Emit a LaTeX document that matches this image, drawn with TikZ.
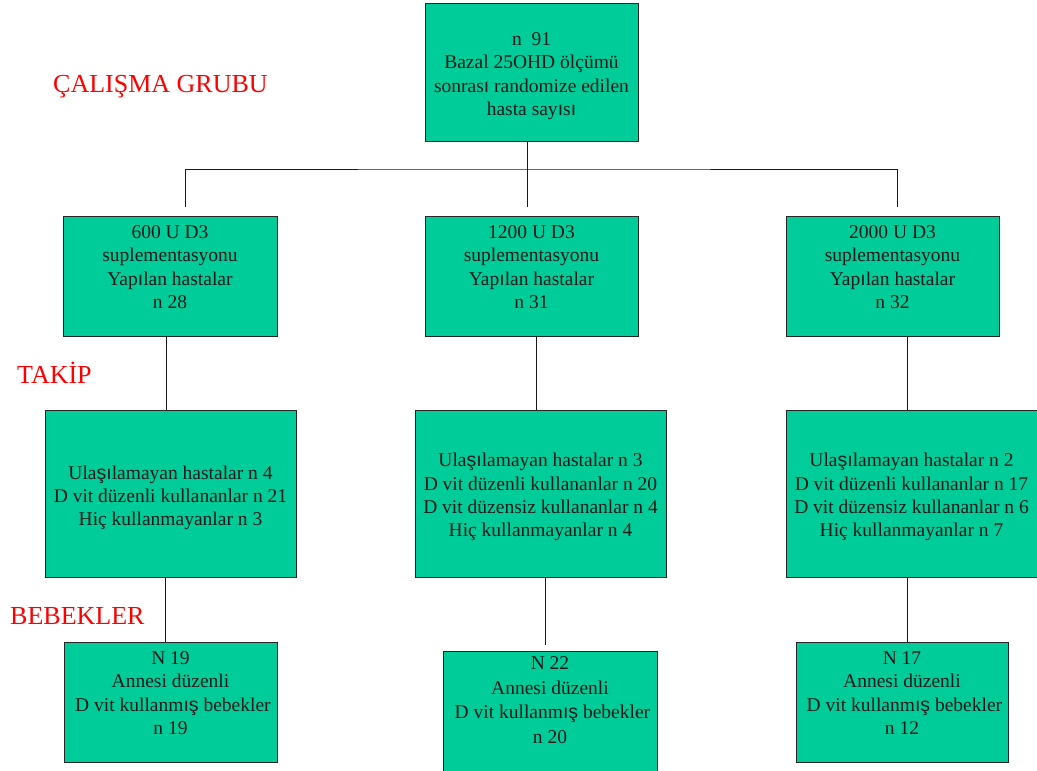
\documentclass[tikz,border=0pt]{standalone}
\usepackage{fontspec}
\setmainfont{Liberation Serif}
\newfontfamily\fbfont{Liberation Sans}
\newcommand{\fbk}[1]{{\fbfont #1}}
\definecolor{boxgreen}{RGB}{0,204,153}
\begin{document}
\begin{tikzpicture}[x=1pt,y=-1pt,
  box/.style={draw=black!85, fill=boxgreen, line width=1pt, inner sep=0pt, rectangle},
  txt/.style={align=center, font=\fontsize{19.5}{23.3}\selectfont, inner sep=0pt, text=black!90},
  lbl/.style={text=red, font=\fontsize{26}{30}\selectfont, anchor=base west, inner sep=0pt},
  conn/.style={line width=1pt, draw=black!90}]
\useasboundingbox (0,0) rectangle (1037,771);

% boxes
\node[box, minimum width=213, minimum height=138] (b1) at (531.5,72) {};
\node[box, minimum width=214, minimum height=120] (b2a) at (170,276) {};
\node[box, minimum width=213, minimum height=120] (b2b) at (531.5,276) {};
\node[box, minimum width=213, minimum height=120] (b2c) at (892.5,276) {};
\node[box, minimum width=251, minimum height=167] (b3a) at (170.5,493.5) {};
\node[box, minimum width=251, minimum height=167] (b3b) at (540.5,493.5) {};
\node[box, minimum width=251, minimum height=167] (b3c) at (911.5,493.5) {};
\node[box, minimum width=213, minimum height=120] (b4a) at (170.5,702) {};
\node[box, minimum width=214, minimum height=139] (b4b) at (550,720.5) {};
\node[box, minimum width=212, minimum height=120] (b4c) at (902,702) {};

% texts
\node[txt] (t1) at (531.5,76) {n\ \ 91\\Bazal 25OHD ölçümü\\sonras\fbk{ı} randomize edilen\\hasta say\fbk{ı}s\fbk{ı}};
\node[txt] (t2a) at (170,267) {600 U D3\\suplementasyonu\\Yap\fbk{ı}lan hastalar\\n 28};
\node[txt] (t2b) at (531.5,267) {1200 U D3\\suplementasyonu\\Yap\fbk{ı}lan hastalar\\n 31};
\node[txt] (t2c) at (892.5,267) {2000 U D3\\suplementasyonu\\Yap\fbk{ı}lan hastalar\\n 32};
\node[txt] (t3a) at (170.5,498) {Ula\fbk{şı}lamayan hastalar n 4\\D vit düzenli kullananlar n 21\\Hiç kullanmayanlar n 3};
\node[txt] (t3b) at (540.5,497) {Ula\fbk{şı}lamayan hastalar n 3\\D vit düzenli kullananlar n 20\\D vit düzensiz kullananlar n 4\\Hiç kullanmayanlar n 4};
\node[txt] (t3c) at (911.5,497) {Ula\fbk{şı}lamayan hastalar n 2\\D vit düzenli kullananlar n 17\\D vit düzensiz kullananlar n 6\\Hiç kullanmayanlar n 7};
\node[txt] (t4a) at (170.5,693) {N 19\\Annesi düzenli\ \\\ D vit kullanm\fbk{ış} bebekler\\n 19};
\node[txt, font=\fontsize{19.5}{24.5}\selectfont] (t4b) at (550,700) {N 22\\Annesi düzenli\ \\\ D vit kullanm\fbk{ış} bebekler\\n 20};
\node[txt] (t4c) at (902,693) {N 17\\Annesi düzenli\ \\\ D vit kullanm\fbk{ış} bebekler\\n 12};

% labels
\node[lbl] (l1) at (53,92) {ÇALIŞMA GRUBU};
\node[lbl] (l2) at (17,383) {TAKİP};
\node[lbl] (l3) at (10,624) {BEBEKLER};

% connectors
\coordinate (hj) at (527,169);
\draw[conn] ([xshift=-4.5pt]b1.south) -- ([xshift=-4.5pt,yshift=9pt]b2b.north);
\draw[conn] ([xshift=15pt,yshift=9pt]b2a.north) |- (hj) -| ([xshift=4.5pt,yshift=9pt]b2c.north);
\draw[conn] ([xshift=-4pt]b2a.south) -- ([xshift=-4.5pt]b3a.north);
\draw[conn] ([xshift=4.5pt]b2b.south) -- ([xshift=-4.5pt]b3b.north);
\draw[conn] ([xshift=14.5pt]b2c.south) -- ([xshift=-4.5pt]b3c.north);
\draw[conn] ([xshift=-5.5pt]b3a.south) -- ([xshift=-5.5pt]b4a.north);
\draw[conn] ([xshift=4.5pt]b3b.south) -- ([xshift=-5pt,yshift=6pt]b4b.north);
\draw[conn] ([xshift=-4.5pt]b3c.south) -- ([xshift=5pt]b4c.north);
\end{tikzpicture}
\end{document}
